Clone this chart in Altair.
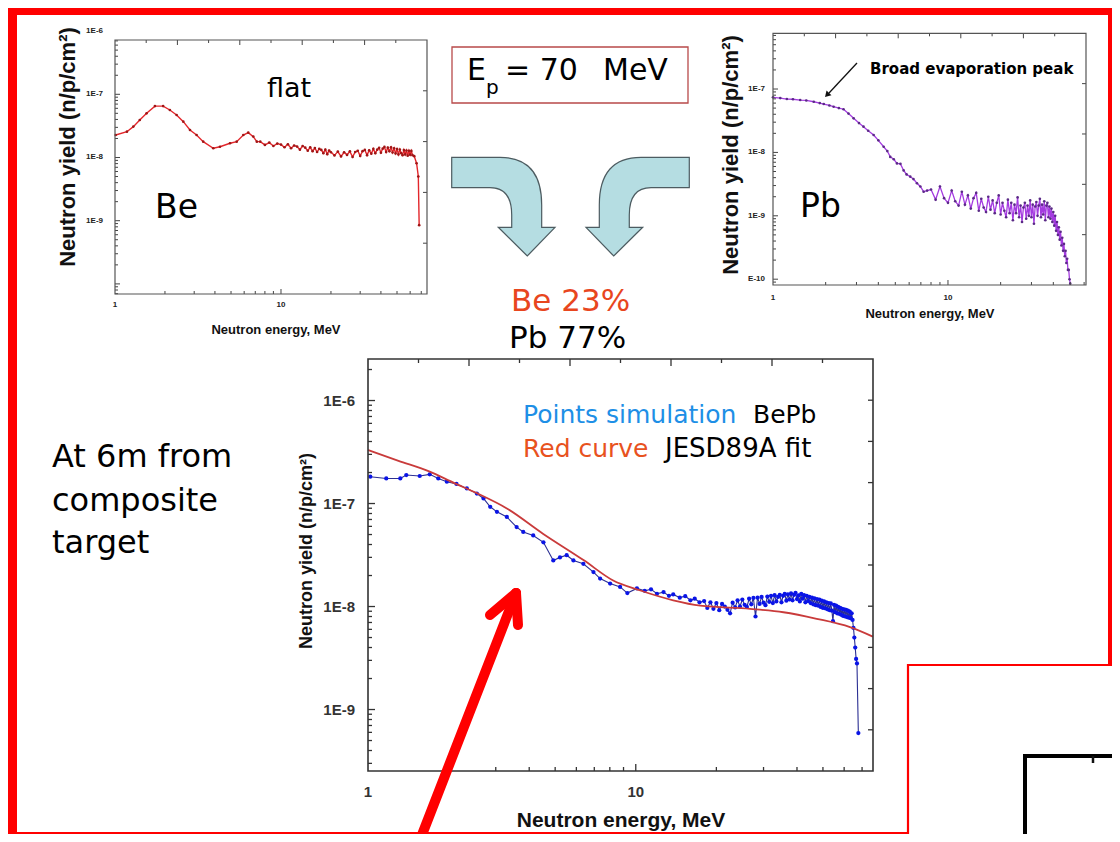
import math
import altair as alt
import pandas as pd

W, H = 1104, 826          # chart size (page margin 8px)
OX, OY = 8, 8
COMIC = "DejaVu Sans"
ARIAL = "Liberation Sans"

# ------------------------------------------------------------------ data
# Be target spectrum (yield in units of 1e-8 n/p/cm2)
BE_ENERGY = [1.01, 1.18, 1.29, 1.41, 1.55, 1.74, 1.95, 2.14, 2.35, 2.58, 2.83, 3.10, 3.40, 3.91, 4.29,
             4.93, 5.41, 5.93, 6.35, 6.81, 7.15,
             7.5, 8.0, 8.5, 9.0, 9.5, 10.0, 10.5, 11.0, 11.5, 12.0, 12.5, 13.0, 13.5, 14.0, 14.5,
             15.0, 15.5, 16.0, 16.5, 17.0, 17.5, 18.0, 18.5, 19.0, 19.5, 20.0,
             21, 22, 23, 24, 25, 26, 27, 28, 29, 30, 31, 32, 33, 34, 35, 36, 37, 38, 39, 40, 41,
             42, 43, 44, 45, 46, 47, 48, 49, 50, 51, 52, 53, 54, 55, 56, 57, 58, 59, 60, 61, 62,
             63.5, 65.6, 67.2, 68.0]
BE_YIELD_E8 = [2.27, 2.56, 3.08, 3.92, 5.0, 6.5, 6.5, 5.65, 4.7, 3.69, 2.72, 2.27, 1.78, 1.40, 1.48,
               1.68, 1.78, 2.27, 2.47, 2.14, 1.78,
               1.78, 1.58, 1.72, 1.52, 1.66, 1.60, 1.45, 1.62, 1.40, 1.55, 1.49, 1.33, 1.52, 1.43, 1.28,
               1.45, 1.26, 1.41, 1.22, 1.37, 1.32, 1.17, 1.33, 1.13, 1.29, 1.21,
               1.08, 1.24, 1.04, 1.21, 1.10, 1.25, 1.02, 1.22, 1.28, 1.06, 1.26, 1.32, 1.09, 1.30, 1.15,
               1.37, 1.17, 1.33, 1.42, 1.19, 1.38, 1.47, 1.22, 1.43, 1.26, 1.45, 1.20, 1.40, 1.16, 1.36,
               1.12, 1.34, 1.17, 1.09, 1.31, 1.12, 1.29, 1.07, 1.28, 1.11, 1.27, 1.09,
               1.05, 0.81, 0.50, 0.085]

# Pb target spectrum (yield in units of 1e-9 n/p/cm2)
PB_ENERGY = [1.0, 1.1, 1.2, 1.3, 1.43, 1.55, 1.71, 1.85, 1.95, 2.1, 2.22, 2.38, 2.53, 2.7, 2.89, 3.1,
             3.29, 3.5, 3.76, 4.0, 4.29, 4.5, 4.68, 4.9, 5.11, 5.35, 5.58, 5.8, 6.09, 6.35, 6.65, 6.95,
             7.26, 7.6,
             8.0, 8.5, 9.0, 9.5, 10.0, 10.5, 11.0, 11.5, 12.0, 12.5,
             13.0, 13.5, 14.0, 14.5, 15.0, 15.5, 16.0, 16.5, 17.0, 17.5,
             18.0, 18.5, 19.0, 19.5, 20.0, 20.5, 21.0, 21.5, 22.0, 22.5,
             23.0, 23.5, 24.0, 24.5, 25.0, 25.5, 26.0, 26.5, 27.0, 27.5,
             28.0, 28.5, 29.0, 29.5, 30.0, 30.5, 31.0, 31.5, 32.0, 32.5,
             33.0, 33.5, 34.0, 34.5, 35.0, 35.5, 36.0, 36.5, 37.0, 37.5,
             38.0, 38.5, 39.0, 39.5, 40.0, 40.5, 41.0, 41.5, 42.0, 42.5,
             43.0, 43.5, 44.0, 44.5, 45.0, 45.5, 46.0, 46.5, 47.0, 47.5,
             48.0, 48.5, 49.0, 49.5, 50.0]
PB_YIELD_E9 = [74, 72, 69.5, 69, 67, 66, 63, 60, 58, 55, 52.6, 50, 48, 41, 34.5, 29,
               25.5, 22, 18.8, 15.5, 12.3, 10.5, 8.5, 7.8, 6.7, 6.6, 5.2, 4.5, 4.14, 3.8, 3.26, 2.9,
               2.4, 2.5,
               2.6, 1.8, 2.9, 1.9, 1.6, 2.5, 1.7, 1.45, 2.4, 1.5,
               2.1, 1.3, 1.9, 2.3, 1.2, 1.85, 1.35, 1.15, 2.0, 1.25,
               1.75, 1.1, 1.6, 2.1, 1.05, 1.6, 1.2, 0.95, 1.8, 1.1,
               1.6, 0.85, 1.5, 1.1, 1.95, 0.95, 1.45, 0.8, 1.35, 1.6,
               0.9, 1.45, 1.0, 1.75, 0.95, 1.5, 0.75, 1.4, 1.65, 1.0,
               1.45, 1.85, 0.95, 1.5, 1.05, 1.7, 0.85, 1.45, 1.6, 0.95,
               1.4, 0.9, 1.3, 0.8, 1.15, 0.7, 1.0, 0.58, 0.8, 0.5,
               0.66, 0.42, 0.56, 0.34, 0.45, 0.28, 0.36, 0.23, 0.28, 0.18,
               0.21, 0.14, 0.14, 0.10, 0.085]

# BePb composite: simulation points (units of 1e-8)
SIM_ENERGY = [1.02, 1.17, 1.32, 1.39, 1.56, 1.70, 1.83, 1.97, 2.14, 2.34,
              2.55, 2.70, 2.86, 3.03, 3.30, 3.59, 3.80, 4.14, 4.52, 4.92,
              5.21, 5.52, 5.85, 6.37, 6.95, 7.36, 8.02, 8.74, 9.3, 10.1,
              10.8, 11.4, 12.0, 12.7, 13.3, 13.8, 14.6, 15.3, 16.0, 16.6, 17.3,
              18.0, 18.5, 19.0, 19.5, 20.0, 20.5, 21.0, 21.5, 22.0, 22.5,
              23.0, 23.5, 24.0, 24.5, 25.0, 25.5, 26.0, 26.5, 27.0, 27.5,
              28.0, 28.5, 29.0, 29.5, 30.0, 30.5, 31.0, 31.5, 32.0, 32.5,
              33.0, 33.5, 34.0, 34.5, 35.0, 35.5, 36.0, 36.5, 37.0, 37.5,
              38.0, 38.5, 39.0, 39.5, 40.0, 40.5, 41.0, 41.5, 42.0, 42.5,
              43.0, 43.5, 44.0, 44.5, 45.0, 45.5, 46.0, 46.5, 47.0, 47.5,
              48.0, 48.5, 49.0, 49.5, 50.0, 50.5, 51.0, 51.5, 52.0, 52.5,
              53.0, 53.5, 54.0, 54.5, 55.0, 55.5, 56.0, 56.5, 57.0, 57.5,
              58.0, 58.5, 59.0, 59.5, 60.0, 60.5, 61.0, 61.5, 62.0, 62.5,
              63.0, 63.5, 64.0, 64.5,
              65.0, 65.5, 66.0, 66.5, 67.0, 67.8]
SIM_YIELD_E8 = [18.2, 17.5, 17.5, 18.9, 18.5, 19.2, 17.5, 16.3, 15.5, 14.0,
                12.5, 11.2, 9.3, 8.3, 7.4, 5.9, 5.3, 4.9, 4.2, 2.8,
                3.0, 3.15, 2.8, 2.6, 2.16, 1.87, 1.67, 1.55, 1.35, 1.50,
                1.42, 1.47, 1.33, 1.38, 1.27, 1.31, 1.22, 1.26, 1.15, 1.19, 1.10,
                1.13, 0.97, 1.10, 0.95, 1.08, 0.92, 1.06, 1.00, 0.93, 0.86,
                1.09, 0.98, 1.15, 1.00, 1.17, 1.04, 0.99, 1.19, 1.05, 1.21,
                0.80, 1.22, 1.06, 1.24, 1.09, 1.03, 1.25, 1.11, 1.27, 1.08,
                1.29, 1.12, 1.24, 1.30, 1.10, 1.27, 1.33, 1.14, 1.31, 1.17,
                1.34, 1.15, 1.30, 1.36, 1.18, 1.28, 1.12, 1.33, 1.19, 1.29,
                1.10, 1.27, 1.13, 1.24, 1.08, 1.22, 1.05, 1.20, 1.03, 1.18,
                1.02, 1.17, 0.99, 1.14, 0.97, 1.12, 0.96, 1.10, 0.94, 1.08,
                0.92, 1.07, 0.91, 0.72, 1.04, 0.88, 1.02, 0.86, 0.99, 0.85,
                0.97, 0.83, 0.95, 0.81, 0.94, 0.80, 0.93, 0.79, 0.91, 0.78,
                0.89, 0.77, 0.86, 0.74,
                0.62, 0.50, 0.40, 0.31, 0.28, 0.059]

# JESD89A fit (units of 1e-8)
FIT_ENERGY = [1.0, 1.3, 1.7, 2.1, 2.55, 3.3, 4.5, 6.4, 8.2, 10.4, 13.8, 17.4, 26.7, 35.6, 47.4, 63.1, 76.8]
FIT_YIELD_E8 = [33.1, 26.0, 20.4, 15.8, 12.6, 8.96, 5.1, 2.81, 1.80, 1.43, 1.15, 1.02, 0.95, 0.88, 0.76, 0.63, 0.51]

X_LABELS = [1, 10]
Y_LABELS_BE = [1e-9, 1e-8, 1e-7, 1e-6]
Y_LABELS_PB = [1e-10, 1e-9, 1e-8, 1e-7]
Y_LABELS_MAIN = [1e-9, 1e-8, 1e-7, 1e-6]

Y_TITLE = "Neutron yield (n/p/cm²)"
X_TITLE = "Neutron energy, MeV"


def cx(v):
    return v - OX


def cy(v):
    return v - OY


def seg_rules(rows, color, width, cap="butt"):
    df = pd.DataFrame(rows, columns=["x", "y", "x2", "y2"])
    return alt.Chart(df).mark_rule(color=color, strokeWidth=width, strokeCap=cap).encode(
        x=alt.X("x:Q", scale=None, axis=None), y=alt.Y("y:Q", scale=None, axis=None),
        x2=alt.X2("x2"), y2=alt.Y2("y2"))


def box(rows, fill, fill_opacity, stroke, sw):
    df = pd.DataFrame(rows, columns=["x", "y", "x2", "y2"])
    return alt.Chart(df).mark_rect(fill=fill, fillOpacity=fill_opacity, stroke=stroke,
                                   strokeWidth=sw).encode(
        x=alt.X("x:Q", scale=None, axis=None), y=alt.Y("y:Q", scale=None, axis=None),
        x2=alt.X2("x2"), y2=alt.Y2("y2"))


def minor_ticks(lo, hi, decades):
    out = []
    for d in decades:
        for m in range(2, 10):
            v = m * d
            if lo < v < hi:
                out.append(v)
    return out


def sci_label(v):
    e = int(round(math.log10(v)))
    return "1E%d" % e


def panel(cfg, series_fn):
    fx0, fy0, fx1, fy1 = cfg["frame"]
    x0, y0, x1, y1 = cx(fx0), cy(fy0), cx(fx1), cy(fy1)
    xs = alt.Scale(type="log", domain=cfg["xdom"], range=[x0, x1], nice=False)
    ys = alt.Scale(type="log", domain=cfg["ydom"], range=[y1, cy(cfg["ytop"])], nice=False)
    layers = series_fn(xs, ys)

    # tick labels (through the panel scales)
    xl = pd.DataFrame({"v": X_LABELS, "label": [str(v) for v in X_LABELS],
                       "y": [cy(cfg["xlab_y"])] * len(X_LABELS)})
    xlab = alt.Chart(xl).mark_text(font=ARIAL, fontWeight="bold", fontSize=cfg["lab_size"],
                                   color=cfg["lab_color"], align="center", baseline="middle").encode(
        x=alt.X("v:Q", scale=xs, axis=None), y=alt.Y("y:Q", scale=None, axis=None), text="label:N")
    yl = pd.DataFrame({"v": cfg["ylabels"], "label": [cfg["yfmt"](v) for v in cfg["ylabels"]],
                       "x": [cx(cfg["ylab_x"])] * len(cfg["ylabels"])})
    ylab = alt.Chart(yl).mark_text(font=ARIAL, fontWeight="bold", fontSize=cfg["lab_size"],
                                   color=cfg["lab_color"], align="right", baseline="middle").encode(
        y=alt.Y("v:Q", scale=ys, axis=None), x=alt.X("x:Q", scale=None, axis=None), text="label:N")
    # axis titles
    xt = pd.DataFrame({"x": [cx(cfg["xtitle"][0])], "y": [cy(cfg["xtitle"][1])], "t": [X_TITLE]})
    xtitle = alt.Chart(xt).mark_text(font=ARIAL, fontWeight="bold", fontSize=cfg["xtitle_size"],
                                     color="#111111", align="center", baseline="middle").encode(
        x=alt.X("x:Q", scale=None, axis=None), y=alt.Y("y:Q", scale=None, axis=None), text="t:N")
    yt = pd.DataFrame({"x": [cx(cfg["ytitle"][0])], "y": [cy(cfg["ytitle"][1])], "t": [Y_TITLE]})
    ytitle = alt.Chart(yt).mark_text(font=ARIAL, fontWeight="bold", fontSize=cfg["ytitle_size"],
                                     color="#111111", align="center", baseline="middle",
                                     angle=270).encode(
        x=alt.X("x:Q", scale=None, axis=None), y=alt.Y("y:Q", scale=None, axis=None), text="t:N")

    tc, tw = cfg["tick_color"], cfg["tick_width"]
    lmaj, lmin = cfg["tick_len"]
    # bottom (energy) ticks, inward
    xmaj = [10]
    xmin = minor_ticks(1, cfg["xdom"][1], [1, 10])
    bt = pd.DataFrame({"v": xmaj + xmin, "y": [y1] * (len(xmaj) + len(xmin)),
                       "y2": [y1 - lmaj] * len(xmaj) + [y1 - lmin] * len(xmin)})
    bottom = alt.Chart(bt).mark_rule(color=tc, strokeWidth=tw).encode(
        x=alt.X("v:Q", scale=xs, axis=None), y=alt.Y("y:Q", scale=None, axis=None), y2=alt.Y2("y2"))
    # left (yield) ticks, inward
    decs = [1e-11, 1e-10, 1e-9, 1e-8, 1e-7, 1e-6]
    lo, hi = cfg["ydom"][0], cfg["yvis_max"]
    ymaj = [d for d in decs if lo < d < hi]
    ymin = minor_ticks(lo, hi, decs)
    lt = pd.DataFrame({"v": ymaj + ymin, "x": [x0] * (len(ymaj) + len(ymin)),
                       "x2": [x0 + lmaj] * len(ymaj) + [x0 + lmin] * len(ymin)})
    left = alt.Chart(lt).mark_rule(color=tc, strokeWidth=tw).encode(
        y=alt.Y("v:Q", scale=ys, axis=None), x=alt.X("x:Q", scale=None, axis=None), x2=alt.X2("x2"))
    # top and right ticks (plain divisions)
    rows = []
    nt = cfg["top_div"]
    for k in range(1, nt):
        xx = x0 + k * (x1 - x0) / nt
        ln = lmaj if k % 2 == 0 else lmin
        rows.append((xx, y0, xx, y0 + ln))
    nr = cfg["right_div"]
    for k in range(1, nr):
        yy = y0 + k * (y1 - y0) / nr
        rows.append((x1, yy, x1 - lmin - 1, yy))
    tr = seg_rules(rows, tc, tw)
    frame = box([(x0, y0, x1, y1)], "white", 0, cfg["frame_color"], cfg["frame_width"])
    return alt.layer(*layers, bottom, left, tr, frame, xlab, ylab, xtitle, ytitle)


# ------------------------------------------------------------------ panels
def be_series(xs, ys):
    df = pd.DataFrame({"e": BE_ENERGY, "y": [v * 1e-8 for v in BE_YIELD_E8]})
    line = alt.Chart(df).mark_line(color="#e3262b", strokeWidth=1.4).encode(
        x=alt.X("e:Q", scale=xs, axis=None), y=alt.Y("y:Q", scale=ys, axis=None))
    pts = alt.Chart(df).mark_circle(size=7, color="#a01515", opacity=1).encode(
        x=alt.X("e:Q", scale=xs, axis=None), y=alt.Y("y:Q", scale=ys, axis=None))
    return [line, pts]


def pb_series(xs, ys):
    df = pd.DataFrame({"e": PB_ENERGY, "y": [v * 1e-9 for v in PB_YIELD_E9]})
    line = alt.Chart(df).mark_line(color="#a43be0", strokeWidth=1.3).encode(
        x=alt.X("e:Q", scale=xs, axis=None), y=alt.Y("y:Q", scale=ys, axis=None))
    pts = alt.Chart(df).mark_circle(size=7, color="#5a2a86", opacity=1).encode(
        x=alt.X("e:Q", scale=xs, axis=None), y=alt.Y("y:Q", scale=ys, axis=None))
    return [line, pts]


def main_series(xs, ys):
    sim = pd.DataFrame({"e": SIM_ENERGY, "y": [v * 1e-8 for v in SIM_YIELD_E8]})
    fit = pd.DataFrame({"e": FIT_ENERGY, "y": [v * 1e-8 for v in FIT_YIELD_E8]})
    sline = alt.Chart(sim).mark_line(color="#2b2f93", strokeWidth=1.1).encode(
        x=alt.X("e:Q", scale=xs, axis=None), y=alt.Y("y:Q", scale=ys, axis=None))
    spts = alt.Chart(sim).mark_circle(size=18, color="#0a14e6", opacity=1).encode(
        x=alt.X("e:Q", scale=xs, axis=None), y=alt.Y("y:Q", scale=ys, axis=None))
    fline = alt.Chart(fit).mark_line(color="#c93b3b", strokeWidth=1.8, interpolate="monotone").encode(
        x=alt.X("e:Q", scale=xs, axis=None), y=alt.Y("y:Q", scale=ys, axis=None))
    return [sline, spts, fline]


def pb_label(v):
    return "E-10" if v < 5e-10 else sci_label(v)


BE_CFG = dict(frame=(115, 40, 427, 294), xdom=[1, 75.8], ydom=[6.92e-11, 1e-6], ytop=31.1,
              yvis_max=7.2e-7, ylabels=Y_LABELS_BE, yfmt=sci_label, lab_size=8, lab_color="#222222",
              xlab_y=305, ylab_x=103, xtitle=(276, 330), xtitle_size=13, ytitle=(68, 147),
              ytitle_size=22, tick_color="#444444", tick_width=1, tick_len=(5, 3), top_div=10,
              right_div=5, frame_color="#555555", frame_width=1.2)
PB_CFG = dict(frame=(773, 33.3, 1086, 285), xdom=[1, 61.5], ydom=[8.1e-11, 7.57e-7], ytop=33.3,
              yvis_max=7.5e-7, ylabels=Y_LABELS_PB, yfmt=pb_label, lab_size=8, lab_color="#222222",
              xlab_y=298, ylab_x=765, xtitle=(930, 314), xtitle_size=13, ytitle=(731, 155),
              ytitle_size=22, tick_color="#444444", tick_width=1, tick_len=(5, 3), top_div=10,
              right_div=5, frame_color="#555555", frame_width=1.2)
MAIN_CFG = dict(frame=(368, 359, 873, 771), xdom=[1, 76.9], ydom=[2.53e-10, 2.53e-6], ytop=359,
                yvis_max=2.5e-6, ylabels=Y_LABELS_MAIN, yfmt=sci_label, lab_size=15,
                lab_color="#333333", xlab_y=792, ylab_x=355, xtitle=(621, 821), xtitle_size=21,
                ytitle=(307, 551), ytitle_size=18, tick_color="#333333", tick_width=1.3,
                tick_len=(7, 4), top_div=10, right_div=10, frame_color="#333333", frame_width=1.6)

# ------------------------------------------------------------------ decorations
frame_bands = box([(0, 0, cx(17), H),              # left band
                   (0, 0, W, cy(15)),              # top band
                   (W - 4, 0, W, cy(665)),         # right band
                   (0, cy(832), cx(910), H)],      # bottom band
                  "#ff0000", 1, "#ff0000", 0)
corner_box = box([(cx(908), cy(665), W + 20, H + 20)], "white", 1, "#ff0000", 2.2)
black_box = box([(cx(1025), cy(756), W + 20, H + 20)], "white", 0, "#000000", 4)
black_tick = seg_rules([(cx(1093), cy(756), cx(1093), cy(763))], "#111111", 2.5)
ep_box = box([(cx(452), cy(47), cx(688), cy(103))], "white", 0, "#b84a4a", 1.3)

LEFT_ARROW = ("M-0.969,-0.904 L-0.091,-0.904 Q0.667,-0.904 0.667,-0.036 L0.667,0.369 "
              "L0.909,0.369 L0.405,0.891 L-0.122,0.369 L0.122,0.369 L0.122,0.145 "
              "Q0.122,-0.351 -0.273,-0.351 L-0.969,-0.351 Z")
RIGHT_ARROW = ("M0.969,-0.904 L0.091,-0.904 Q-0.667,-0.904 -0.667,-0.036 L-0.667,0.369 "
               "L-0.909,0.369 L-0.405,0.891 L0.122,0.369 L-0.122,0.369 L-0.122,0.145 "
               "Q-0.122,-0.351 0.273,-0.351 L0.969,-0.351 Z")
arrows_df = pd.DataFrame({"x": [cx(505), cx(636)], "y": [cy(207), cy(207)],
                          "shape": [LEFT_ARROW, RIGHT_ARROW]})
curved_arrows = alt.Chart(arrows_df).mark_point(filled=True, fill="#b5dde2", stroke="#4d5c61",
                                                strokeWidth=1.2, opacity=1, size=12100).encode(
    x=alt.X("x:Q", scale=None, axis=None), y=alt.Y("y:Q", scale=None, axis=None),
    shape=alt.Shape("shape:N", scale=None, legend=None))

pb_arrow_line = seg_rules([(cx(857), cy(63), cx(829), cy(93))], "#111111", 1.3)
pb_arrow_head = alt.Chart(pd.DataFrame({"x": [cx(827)], "y": [cy(95)]})).mark_point(
    shape="triangle-up", filled=True, size=45, angle=223, color="#111111", opacity=1).encode(
    x=alt.X("x:Q", scale=None, axis=None), y=alt.Y("y:Q", scale=None, axis=None))

red_arrow = seg_rules([(cx(418), cy(845), cx(516), cy(593)),
                       (cx(516), cy(593), cx(490), cy(615)),
                       (cx(516), cy(593), cx(518), cy(625))], "#ff0000", 10, "round")

NORMAL_TEXTS = [
    ("flat", 267, 97, 27, "#000000"),
    ("Be", 155, 218, 33, "#000000"),
    ("Pb", 800, 217, 33, "#000000"),
    ("E", 467, 80, 30, "#000000"),
    ("p", 486, 94, 20, "#000000"),
    ("= 70", 505, 80, 30, "#000000"),
    ("MeV", 603, 80, 30, "#000000"),
    ("Be 23%", 511, 311, 31, "#e8461e"),
    ("Pb 77%", 509, 348, 31, "#000000"),
    ("At 6m from", 52, 467, 32, "#000000"),
    ("composite", 52, 511, 32, "#000000"),
    ("target", 52, 553, 32, "#000000"),
    ("Points simulation", 523, 423, 25, "#1e8fe6"),
    ("BePb", 753, 423, 25, "#000000"),
    ("Red curve", 523, 457, 25, "#e8521e"),
    ("JESD89A fit", 665, 457, 26, "#000000"),
]
BOLD_TEXTS = [("Broad evaporation peak", 870, 74, 15, "#000000")]


def text_layer(rows, weight):
    df = pd.DataFrame(rows, columns=["text", "x", "y", "size", "color"])
    df["x"] = df["x"] - OX
    df["y"] = df["y"] - OY
    return alt.Chart(df).mark_text(font=COMIC, fontWeight=weight, align="left",
                                   baseline="alphabetic").encode(
        x=alt.X("x:Q", scale=None, axis=None), y=alt.Y("y:Q", scale=None, axis=None),
        text="text:N", size=alt.Size("size:Q", scale=None, legend=None),
        color=alt.Color("color:N", scale=None, legend=None))


chart = alt.layer(
    frame_bands,
    corner_box,
    black_box,
    black_tick,
    ep_box,
    curved_arrows,
    panel(BE_CFG, be_series),
    panel(PB_CFG, pb_series),
    panel(MAIN_CFG, main_series),
    pb_arrow_line,
    pb_arrow_head,
    text_layer(NORMAL_TEXTS, "normal"),
    text_layer(BOLD_TEXTS, "bold"),
    red_arrow,
).resolve_scale(
    x="independent", y="independent"
).properties(
    width=W, height=H, background="white", padding=0,
    autosize=alt.AutoSizeParams(type="none"),
).configure_view(strokeWidth=0)

chart.save("out.html", embed_options={"renderer": "svg", "actions": False})
